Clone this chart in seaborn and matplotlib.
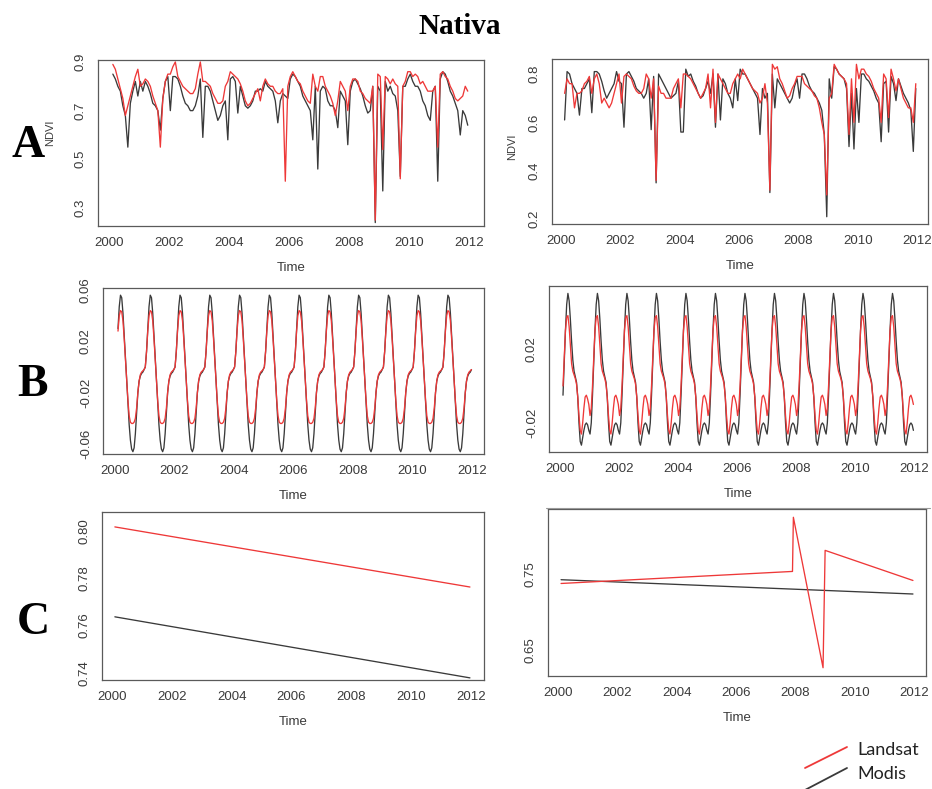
import numpy as np
import pandas as pd
import matplotlib
matplotlib.use("Agg")
import matplotlib.pyplot as plt
from matplotlib.lines import Line2D
import seaborn as sns

# ---- data ----
# row A: monthly NDVI, Feb 2000 .. Dec 2011
ndvi_left_modis = [
    0.85, 0.83, 0.80, 0.78, 0.72, 0.68, 0.55, 0.73, 0.78, 0.82, 0.76,
    0.82, 0.78, 0.82, 0.80, 0.77, 0.73, 0.72, 0.70, 0.62, 0.75, 0.82, 0.84,
    0.70, 0.84, 0.84, 0.83, 0.80, 0.76, 0.73, 0.72, 0.70, 0.70, 0.72, 0.76,
    0.83, 0.59, 0.80, 0.80, 0.78, 0.74, 0.70, 0.66, 0.68, 0.72, 0.74, 0.58,
    0.83, 0.84, 0.82, 0.69, 0.80, 0.76, 0.72, 0.71, 0.72, 0.74, 0.78, 0.78,
    0.79, 0.78, 0.82, 0.80, 0.79, 0.78, 0.74, 0.65, 0.74, 0.77, 0.76, 0.75,
    0.83, 0.85, 0.84, 0.82, 0.80, 0.76, 0.74, 0.72, 0.70, 0.58, 0.80, 0.46,
    0.78, 0.80, 0.79, 0.74, 0.72, 0.72, 0.70, 0.63, 0.78, 0.76, 0.74, 0.56,
    0.78, 0.82, 0.83, 0.81, 0.79, 0.76, 0.72, 0.69, 0.70, 0.80, 0.24, 0.80,
    0.78, 0.37, 0.82, 0.78, 0.80, 0.77, 0.76, 0.70, 0.43, 0.80, 0.80, 0.83,
    0.85, 0.82, 0.80, 0.80, 0.78, 0.74, 0.72, 0.68, 0.66, 0.78, 0.80, 0.41,
    0.83, 0.86, 0.85, 0.82, 0.78, 0.76, 0.73, 0.70, 0.60, 0.70, 0.68, 0.64,
]
ndvi_left_landsat = [
    0.89, 0.87, 0.83, 0.79, 0.75, 0.68, 0.72, 0.76, 0.80, 0.84, 0.87,
    0.80, 0.81, 0.83, 0.82, 0.80, 0.76, 0.73, 0.70, 0.55, 0.75, 0.82, 0.85,
    0.85, 0.88, 0.90, 0.84, 0.82, 0.80, 0.79, 0.78, 0.77, 0.77, 0.79, 0.85,
    0.90, 0.82, 0.82, 0.81, 0.80, 0.77, 0.75, 0.73, 0.73, 0.74, 0.80, 0.82,
    0.86, 0.85, 0.84, 0.83, 0.81, 0.78, 0.74, 0.72, 0.73, 0.75, 0.77, 0.79,
    0.74, 0.80, 0.83, 0.81, 0.80, 0.80, 0.78, 0.77, 0.77, 0.79, 0.41, 0.80,
    0.84, 0.86, 0.84, 0.82, 0.81, 0.78, 0.76, 0.74, 0.73, 0.85, 0.80, 0.78,
    0.84, 0.84, 0.80, 0.78, 0.76, 0.73, 0.68, 0.74, 0.82, 0.80, 0.78, 0.70,
    0.80, 0.83, 0.83, 0.82, 0.78, 0.77, 0.75, 0.74, 0.73, 0.80, 0.25, 0.85,
    0.84, 0.54, 0.84, 0.83, 0.81, 0.83, 0.81, 0.80, 0.42, 0.80, 0.82, 0.86,
    0.86, 0.84, 0.85, 0.84, 0.81, 0.82, 0.80, 0.78, 0.78, 0.78, 0.80, 0.55,
    0.85, 0.86, 0.84, 0.83, 0.80, 0.78, 0.75, 0.74, 0.75, 0.76, 0.80, 0.78,
]
ndvi_right_modis = [
    0.61, 0.81, 0.80, 0.76, 0.74, 0.72, 0.63, 0.74, 0.74, 0.76, 0.78,
    0.64, 0.81, 0.81, 0.80, 0.77, 0.73, 0.70, 0.72, 0.74, 0.76, 0.81, 0.77,
    0.76, 0.58, 0.80, 0.81, 0.79, 0.77, 0.74, 0.73, 0.72, 0.70, 0.72, 0.78,
    0.57, 0.79, 0.35, 0.80, 0.78, 0.76, 0.74, 0.72, 0.70, 0.71, 0.72, 0.77,
    0.56, 0.56, 0.82, 0.79, 0.80, 0.77, 0.75, 0.72, 0.70, 0.71, 0.74, 0.77,
    0.72, 0.80, 0.58, 0.80, 0.61, 0.78, 0.76, 0.72, 0.70, 0.66, 0.78, 0.69,
    0.82, 0.80, 0.80, 0.78, 0.76, 0.74, 0.72, 0.70, 0.55, 0.74, 0.70, 0.72,
    0.31, 0.80, 0.66, 0.78, 0.76, 0.74, 0.72, 0.70, 0.68, 0.70, 0.75, 0.78,
    0.70, 0.80, 0.80, 0.78, 0.75, 0.73, 0.72, 0.70, 0.68, 0.65, 0.55, 0.21,
    0.78, 0.70, 0.83, 0.82, 0.80, 0.79, 0.78, 0.74, 0.50, 0.72, 0.49, 0.74,
    0.60, 0.80, 0.80, 0.78, 0.77, 0.75, 0.73, 0.70, 0.68, 0.52, 0.76, 0.77,
    0.56, 0.79, 0.76, 0.69, 0.78, 0.75, 0.72, 0.70, 0.68, 0.65, 0.48, 0.74,
]
ndvi_right_landsat = [
    0.72, 0.78, 0.76, 0.76, 0.66, 0.72, 0.72, 0.73, 0.76, 0.77, 0.79,
    0.72, 0.78, 0.80, 0.76, 0.68, 0.70, 0.68, 0.66, 0.68, 0.72, 0.76, 0.80,
    0.68, 0.79, 0.80, 0.79, 0.78, 0.75, 0.73, 0.72, 0.72, 0.74, 0.80, 0.78,
    0.70, 0.78, 0.36, 0.75, 0.72, 0.72, 0.70, 0.70, 0.70, 0.74, 0.76, 0.78,
    0.66, 0.80, 0.80, 0.79, 0.78, 0.76, 0.74, 0.72, 0.70, 0.72, 0.74, 0.80,
    0.66, 0.82, 0.60, 0.80, 0.78, 0.76, 0.74, 0.72, 0.72, 0.76, 0.78, 0.80,
    0.78, 0.82, 0.80, 0.78, 0.76, 0.74, 0.73, 0.72, 0.68, 0.70, 0.76, 0.68,
    0.32, 0.84, 0.82, 0.83, 0.78, 0.76, 0.73, 0.70, 0.71, 0.74, 0.76, 0.79,
    0.79, 0.79, 0.76, 0.75, 0.74, 0.73, 0.71, 0.70, 0.66, 0.60, 0.55, 0.30,
    0.70, 0.72, 0.84, 0.82, 0.80, 0.79, 0.78, 0.76, 0.55, 0.78, 0.60, 0.84,
    0.78, 0.82, 0.82, 0.80, 0.79, 0.77, 0.74, 0.72, 0.70, 0.60, 0.80, 0.78,
    0.62, 0.82, 0.78, 0.73, 0.78, 0.74, 0.70, 0.68, 0.66, 0.66, 0.60, 0.76,
]
ndvi_time = 2000 + (np.arange(len(ndvi_left_modis)) + 1.5) / 12

# row B: one year of the seasonal component (24 steps), repeated every year
season_left_modis = [0.000, 0.012, 0.030, 0.047, 0.056, 0.054, 0.042, 0.025,
                     0.008, -0.010, -0.028, -0.045, -0.057, -0.064, -0.066, -0.063,
                     -0.052, -0.036, -0.020, -0.011, -0.007, -0.005, -0.004, -0.002]
season_left_landsat = [0.000, 0.012, 0.028, 0.040, 0.044, 0.043, 0.036, 0.022,
                       0.006, -0.010, -0.026, -0.038, -0.043, -0.044, -0.044, -0.043,
                       -0.040, -0.032, -0.020, -0.011, -0.006, -0.004, -0.003, -0.002]
season_right_modis = [-0.026, -0.020, -0.005, 0.012, 0.030, 0.044, 0.050, 0.046,
                      0.036, 0.024, 0.014, 0.008, 0.005, 0.002, -0.006, -0.020,
                      -0.030, -0.032, -0.028, -0.024, -0.021, -0.020, -0.021, -0.024]
season_right_landsat = [-0.016, -0.012, 0.000, 0.015, 0.030, 0.037, 0.038, 0.032,
                        0.022, 0.012, 0.008, 0.006, 0.004, 0.001, -0.006, -0.016,
                        -0.024, -0.026, -0.020, -0.012, -0.006, -0.005, -0.007, -0.010]
season_years = 12
season_skip = 2
season_time = 2000 + (np.arange(season_skip, 24 * season_years) + 0.5) / 24

# row C: trend component
trend_time = [2000.1, 2011.96]
trend_left_landsat = [0.8017, 0.7763]
trend_left_modis = [0.7637, 0.7379]
trend_right_modis = [0.743, 0.724]
trend_right_break_time = [2000.1, 2007.9, 2007.93, 2008.93, 2009.0, 2011.96]
trend_right_landsat = [0.738, 0.754, 0.826, 0.626, 0.782, 0.742]

year_ticks = [2000, 2002, 2004, 2006, 2008, 2010, 2012]

RED = "#ee3838"
BLACK = "#3a3a3a"
palette = {"Modis": BLACK, "Landsat": RED}


def long_df(t_modis, y_modis, t_landsat, y_landsat):
    a = pd.DataFrame({"Time": t_modis, "value": y_modis, "sensor": "Modis"})
    b = pd.DataFrame({"Time": t_landsat, "value": y_landsat, "sensor": "Landsat"})
    return pd.concat([a, b], ignore_index=True)


def tiled(cycle):
    return np.tile(cycle, season_years)[season_skip:]


panels = [
    # box in px (x0, y0, x1, y1), data, xlim, ylim, yticks, ytick labels, ylabel, ylabel pos
    ((98, 60, 484, 226),
     long_df(ndvi_time, ndvi_left_modis, ndvi_time, ndvi_left_landsat),
     (1999.63, 2012.5), (0.226, 0.908),
     [0.3, 0.4, 0.5, 0.6, 0.7, 0.8, 0.9], ["0.3", "", "0.5", "", "0.7", "", "0.9"],
     "NDVI", (-43, 0.56)),
    ((552, 59, 928, 224),
     long_df(ndvi_time, ndvi_right_modis, ndvi_time, ndvi_right_landsat),
     (1999.70, 2012.37), (0.18, 0.862),
     [0.2, 0.3, 0.4, 0.5, 0.6, 0.7, 0.8], ["0.2", "", "0.4", "", "0.6", "", "0.8"],
     "NDVI", (-35, 0.47)),
    ((103, 288, 484, 454),
     long_df(season_time, tiled(season_left_modis), season_time, tiled(season_left_landsat)),
     (1999.6, 2012.4), (-0.0678, 0.0616),
     [-0.06, -0.04, -0.02, 0.0, 0.02, 0.04, 0.06], ["-0.06", "", "-0.02", "", "0.02", "", "0.06"],
     "", None),
    ((549, 286, 927, 452),
     long_df(season_time, tiled(season_right_modis), season_time, tiled(season_right_landsat)),
     (1999.63, 2012.44), (-0.0357, 0.054),
     [-0.02, 0.0, 0.02, 0.04], ["-0.02", "", "0.02", ""],
     "", None),
    ((102, 512, 484, 680),
     long_df(trend_time, trend_left_modis, trend_time, trend_left_landsat),
     (1999.67, 2012.43), (0.737, 0.808),
     [0.74, 0.75, 0.76, 0.77, 0.78, 0.79, 0.80], ["0.74", "", "0.76", "", "0.78", "", "0.80"],
     "", None),
    ((548, 509, 926, 676),
     long_df(trend_time, trend_right_modis, trend_right_break_time, trend_right_landsat),
     (1999.66, 2012.40), (0.615, 0.837),
     [0.65, 0.70, 0.75, 0.80], ["0.65", "", "0.75", ""],
     "", None),
]

sns.set_style("white")
plt.rcParams["font.family"] = ["Liberation Sans", "DejaVu Sans"]

W, H = 932, 789
fig = plt.figure(figsize=(W / 100, H / 100), dpi=100)
fig.patch.set_facecolor("white")

for box, df, xlim, ylim, yticks, ylabels, ylabel, ylab_pos in panels:
    x0, y0, x1, y1 = box
    ax = fig.add_axes([x0 / W, 1 - y1 / H, (x1 - x0) / W, (y1 - y0) / H])
    sns.lineplot(data=df, x="Time", y="value", hue="sensor", hue_order=["Modis", "Landsat"],
                 palette=palette, estimator=None, linewidth=0.95, legend=False, ax=ax)
    ax.set_xlim(xlim)
    ax.set_ylim(ylim)
    ax.set_xticks(year_ticks)
    ax.set_yticks(yticks)
    ax.set_yticklabels(ylabels, rotation=90, va="center")
    for s in ax.spines.values():
        s.set_color("#5a5a5a")
        s.set_linewidth(0.9)
    ax.tick_params(direction="out", length=4, width=0.8, color="#5a5a5a",
                   labelcolor="#3a3a3a", labelsize=9.5, pad=4)
    ax.set_xlabel("Time", fontsize=9.5, color="#3a3a3a")
    ax.xaxis.set_label_coords(0.5, -36 / (y1 - y0))
    ax.set_ylabel(ylabel, fontsize=8, color="#3a3a3a")
    if ylab_pos:
        ax.yaxis.set_label_coords(ylab_pos[0] / (x1 - x0), ylab_pos[1])

# title and row letters
serif = ["Liberation Serif", "DejaVu Serif"]
fig.text(460 / W, 1 - 26 / H, "Nativa", ha="center", va="center", fontsize=21,
         fontweight="bold", family=serif, color="black")
for letter, cx, cy in [("A", 28, 146), ("B", 33, 385), ("C", 33, 623)]:
    fig.text(cx / W, 1 - cy / H, letter, ha="center", va="center", fontsize=33,
             fontweight="bold", family=serif, color="black")

# legend drawn as slanted strokes, like the source
fig.add_artist(Line2D([805 / W, 847 / W], [1 - 768 / H, 1 - 747 / H], color=RED, lw=1.3))
fig.add_artist(Line2D([805 / W, 847 / W], [1 - 790 / H, 1 - 768 / H], color=BLACK, lw=1.3))
fig.text(857 / W, 1 - 750 / H, "Landsat", ha="left", va="center", fontsize=13,
         family=["Lato", "DejaVu Sans"], color="#222222")
fig.text(857 / W, 1 - 774 / H, "Modis", ha="left", va="center", fontsize=13,
         family=["Lato", "DejaVu Sans"], color="#222222")

# faint divider below the right seasonal panel
fig.add_artist(Line2D([546 / W, 930 / W], [1 - 508 / H, 1 - 508 / H], color="#9a9a9a", lw=0.8))

fig.savefig("out.png", dpi=100, facecolor="white")
